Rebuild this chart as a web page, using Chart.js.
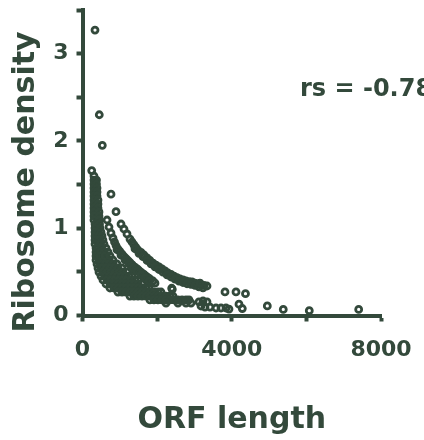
<!DOCTYPE html>
<html>
<head>
<meta charset="utf-8">
<script src="https://cdn.jsdelivr.net/npm/chart.js@4"></script>
<style>
  body { margin: 0; background: #fff; }
</style>
</head>
<body>
<canvas id="myChart" width="424" height="440"></canvas>
<script>
const ink = "#33493b";
const family = "DejaVu Sans";

const xLabels = [0, 4000, 8000];
const yLabels = [0, 1, 2, 3];
const xTitle = "ORF length";
const yTitle = "Ribosome density";
const corrLabel = "rs = -0.78";

// [ORF length, ribosome density]
const outliers = [
  [247, 1.66], [335, 3.27], [450, 2.30], [531, 1.95], [764, 1.39], [898, 1.19],
  [1943, 0.37], [2390, 0.312], [2407, 0.30], [3149, 0.37], [3819, 0.27], [4114, 0.27],
  [4368, 0.25], [4194, 0.13], [4283, 0.08], [4953, 0.11], [5381, 0.07], [6078, 0.055],
  [7402, 0.07], [3122, 0.155], [3230, 0.166], [3337, 0.155], [3176, 0.109], [3283, 0.097],
  [3417, 0.097], [3578, 0.086], [3712, 0.086], [3846, 0.086], [3926, 0.074]
];

const upperBand = [
  [1032, 1.048], [1112, 0.991], [1193, 0.934], [1273, 0.876], [1327, 0.842], [1380, 0.808],
  [1434, 0.779], [1487, 0.750], [1568, 0.722], [1648, 0.693], [1729, 0.659], [1809, 0.630],
  [1889, 0.601], [1970, 0.578], [2050, 0.556], [2131, 0.533], [2211, 0.510], [2291, 0.487],
  [2372, 0.470], [2452, 0.452], [2533, 0.435], [2613, 0.418], [2693, 0.407], [2774, 0.395],
  [2854, 0.389], [2935, 0.384], [3015, 0.372], [3095, 0.361], [3176, 0.349], [3256, 0.344],
  [3337, 0.338],
  [1407, 0.765], [1514, 0.712], [1621, 0.674], [1729, 0.630], [1836, 0.592], [1943, 0.558],
  [2050, 0.527], [2157, 0.496], [2265, 0.466], [2372, 0.441], [2479, 0.418], [2586, 0.395],
  [2693, 0.378], [2801, 0.364], [2908, 0.357], [3015, 0.344], [3122, 0.329], [3229, 0.317]
];

const middleBand = [
  [657, 1.094], [710, 1.014], [764, 0.945], [817, 0.888], [858, 0.842], [898, 0.802],
  [951, 0.762], [1005, 0.733], [1059, 0.704], [1112, 0.676], [1166, 0.653], [1219, 0.630],
  [1273, 0.607], [1327, 0.584], [1380, 0.561], [1434, 0.544], [1487, 0.527], [1541, 0.504],
  [1595, 0.487], [1648, 0.470], [1702, 0.452], [1755, 0.435], [1809, 0.418], [1889, 0.395],
  [925, 0.754], [1032, 0.691], [1139, 0.636], [1246, 0.590], [1353, 0.544], [1461, 0.507],
  [1568, 0.466], [1675, 0.432], [1782, 0.397]
];

// short genes: steep column near the y axis
const shortGenes = [
  [308, 1.598],
  [308, 1.552], [375, 1.552], [308, 1.506], [375, 1.506],
  [308, 1.460], [389, 1.460], [308, 1.415], [389, 1.415], [308, 1.369], [389, 1.369],
  [308, 1.323], [415, 1.323], [308, 1.277], [415, 1.277], [308, 1.231], [415, 1.231],
  [308, 1.186], [442, 1.186], [308, 1.140], [442, 1.140], [308, 1.094], [442, 1.094],
  [335, 1.048], [456, 1.048], [335, 1.002], [469, 1.002],
  [335, 0.956], [415, 0.956], [496, 0.956],
  [335, 0.911], [442, 0.911], [523, 0.911],
  [335, 0.865], [442, 0.865], [549, 0.865],
  [335, 0.819], [469, 0.819], [576, 0.819],
  [362, 0.773], [496, 0.773], [630, 0.773],
  [362, 0.727], [469, 0.727], [576, 0.727], [683, 0.727],
  [362, 0.682], [469, 0.682], [603, 0.682], [737, 0.682]
];

// main cloud of longer genes
const mainCloud = [
  [362, 0.636], [469, 0.636], [603, 0.636], [710, 0.636], [817, 0.636],
  [389, 0.590], [496, 0.590], [603, 0.590], [710, 0.590], [817, 0.590], [925, 0.590],
  [415, 0.544], [523, 0.544], [630, 0.544], [737, 0.544], [844, 0.544], [951, 0.544],
  [1059, 0.544],
  [442, 0.498], [549, 0.498], [657, 0.498], [764, 0.498], [871, 0.498], [978, 0.498],
  [1085, 0.498], [1193, 0.498],
  [496, 0.452], [603, 0.452], [710, 0.452], [817, 0.452], [925, 0.452], [1032, 0.452],
  [1139, 0.452], [1246, 0.452], [1327, 0.452],
  [549, 0.407], [657, 0.407], [764, 0.407], [871, 0.407], [978, 0.407], [1085, 0.407],
  [1193, 0.407], [1300, 0.407], [1407, 0.407], [1487, 0.407],
  [630, 0.361], [737, 0.361], [844, 0.361], [951, 0.361], [1059, 0.361], [1166, 0.361],
  [1273, 0.361], [1380, 0.361], [1487, 0.361], [1595, 0.361],
  [737, 0.315], [844, 0.315], [951, 0.315], [1059, 0.315], [1166, 0.315], [1273, 0.315],
  [1380, 0.315], [1487, 0.315], [1595, 0.315], [1702, 0.315], [1782, 0.315],
  [951, 0.269], [1059, 0.269], [1166, 0.269], [1273, 0.269], [1380, 0.269], [1487, 0.269],
  [1595, 0.269], [1702, 0.269], [1809, 0.269], [1916, 0.269], [2023, 0.269], [2104, 0.269],
  [1273, 0.223], [1380, 0.223], [1487, 0.223], [1595, 0.223], [1702, 0.223], [1809, 0.223],
  [1916, 0.223], [2023, 0.223], [2131, 0.223], [2238, 0.223], [2345, 0.223], [2425, 0.223],
  [1809, 0.178], [1916, 0.178], [2023, 0.178], [2131, 0.178], [2238, 0.178], [2345, 0.178],
  [2452, 0.178], [2559, 0.178], [2667, 0.178], [2774, 0.178], [2854, 0.178],
  [2238, 0.143], [2559, 0.143], [2774, 0.143], [2908, 0.143]
];

const groups = [outliers, upperBand, middleBand, shortGenes, mainCloud];

const sideText = {
  id: "sideText",
  afterDraw(chart) {
    const ctx = chart.ctx;
    ctx.save();
    ctx.fillStyle = ink;
    ctx.textBaseline = "alphabetic";
    ctx.textAlign = "left";
    ctx.font = "bold 24px '" + family + "'";
    ctx.fillText(corrLabel, 300, 96);
    ctx.restore();

    ctx.save();
    ctx.fillStyle = ink;
    ctx.textBaseline = "alphabetic";
    ctx.textAlign = "center";
    ctx.font = "bold 30px '" + family + "'";
    ctx.translate(34, 182);
    ctx.rotate(-Math.PI / 2);
    ctx.fillText(yTitle, 0, 0);
    ctx.restore();
  }
};

const tickFont = { family: family, size: 22, weight: "bold" };

function noEdgePadding(s) {
  s.paddingTop = 0;
  s.paddingBottom = 0;
  s.paddingLeft = 0;
  s.paddingRight = 0;
}

new Chart(document.getElementById("myChart"), {
  type: "scatter",
  data: {
    datasets: groups.map(g => ({
      data: g.map(([x, y]) => ({ x: x, y: y })),
      pointRadius: 3,
      pointBorderWidth: 2.8,
      borderColor: ink,
      backgroundColor: "transparent"
    }))
  },
  options: {
    responsive: false,
    animation: false,
    devicePixelRatio: 1,
    layout: { padding: { top: 10, right: 43, left: 0, bottom: 0 } },
    plugins: { legend: { display: false }, tooltip: { enabled: false } },
    scales: {
      x: {
        type: "linear",
        min: 0,
        max: 8000,
        border: { color: ink, width: 4 },
        grid: { drawOnChartArea: false, tickLength: 6, tickWidth: 4, tickColor: ink },
        ticks: {
          stepSize: 2000,
          autoSkip: false,
          minRotation: 0,
          maxRotation: 0,
          color: ink,
          padding: 16,
          font: tickFont,
          callback: v => (xLabels.includes(v) ? String(v) : "")
        },
        title: {
          display: true,
          text: xTitle,
          color: ink,
          font: { family: family, size: 30, weight: "bold" },
          padding: { top: 0, bottom: 2 }
        },
        afterFit: s => { s.height = 124.5; noEdgePadding(s); }
      },
      y: {
        min: 0,
        max: 3.5,
        border: { color: ink, width: 4 },
        grid: { drawOnChartArea: false, tickLength: 6, tickWidth: 4, tickColor: ink },
        ticks: {
          stepSize: 0.5,
          autoSkip: false,
          minRotation: 0,
          maxRotation: 0,
          color: ink,
          padding: 8,
          font: tickFont,
          callback: v => (yLabels.includes(v) ? String(v) : "")
        },
        afterFit: s => { s.width = 82.5; noEdgePadding(s); }
      }
    }
  },
  plugins: [sideText]
});
</script>
</body>
</html>
